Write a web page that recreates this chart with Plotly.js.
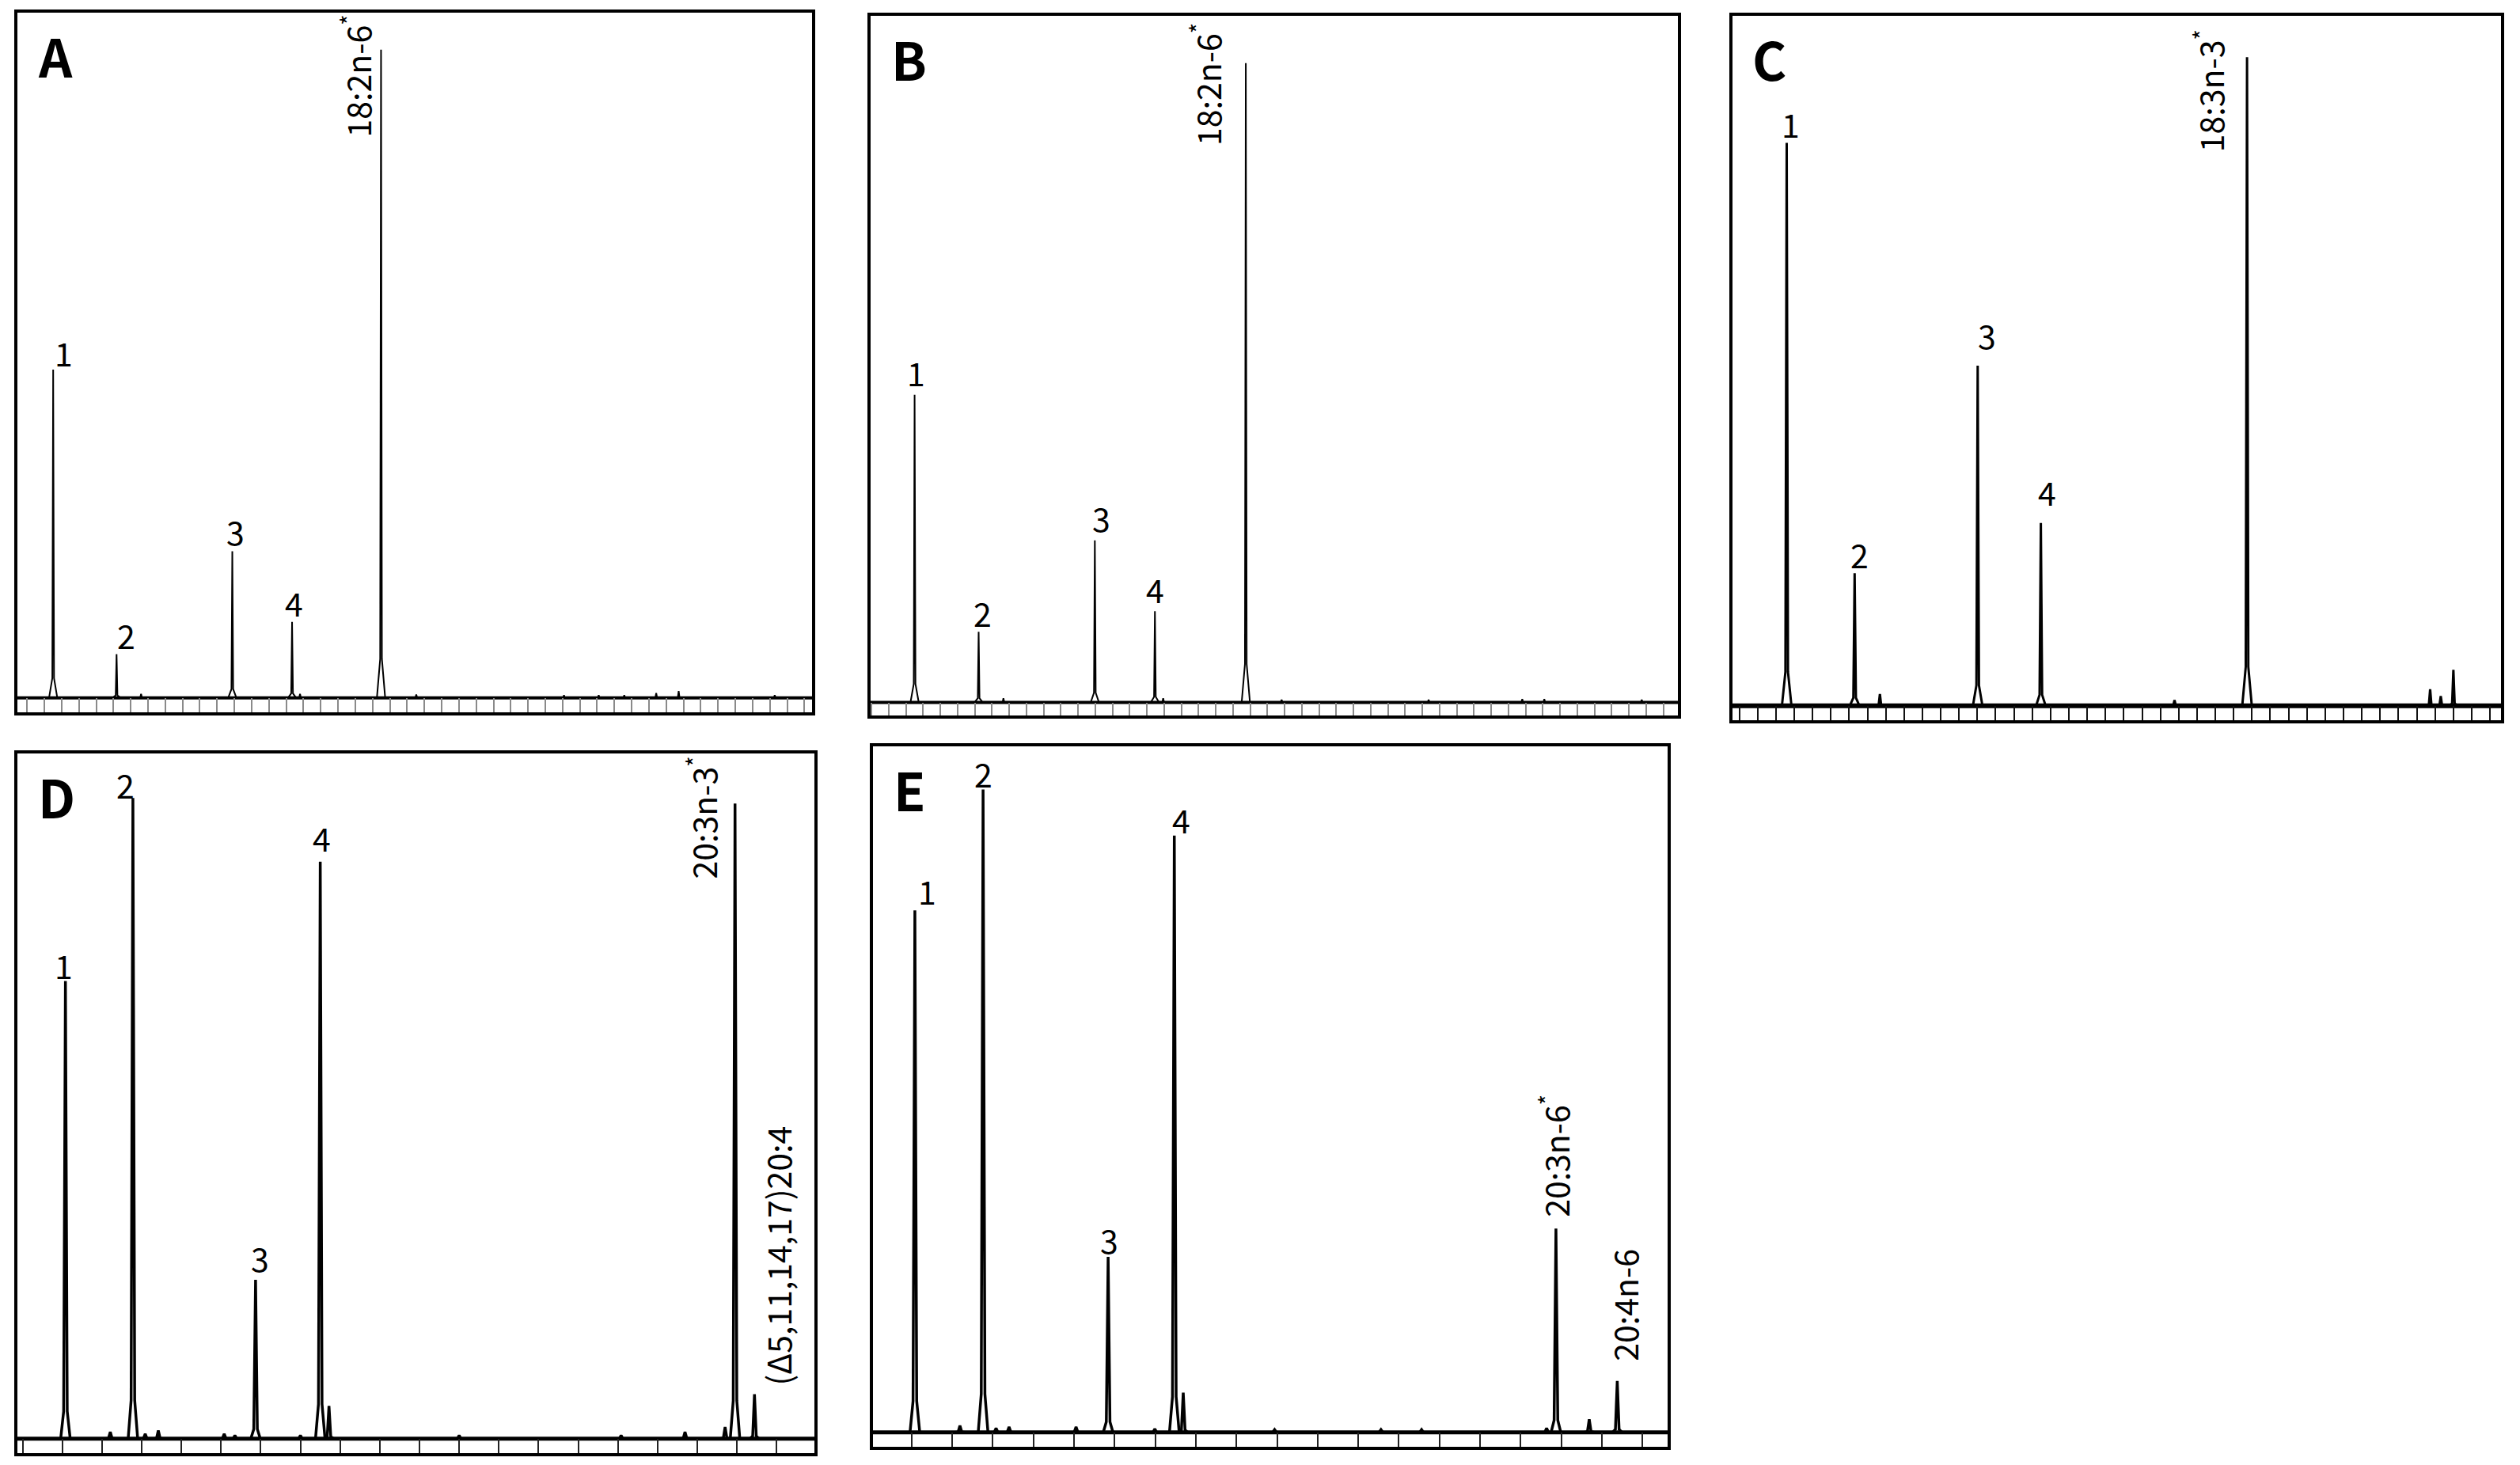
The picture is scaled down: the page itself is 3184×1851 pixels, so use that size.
<!DOCTYPE html>
<html>
<head>
<meta charset="utf-8">
<script src="https://cdn.plot.ly/plotly-3.0.1.min.js"></script>
<style>
    html, body { margin: 0; padding: 0; background: #fff; }
    #chart { width: 3184px; height: 1851px; }
</style>
</head>
<body>
<div id="chart"></div>
<script>
'use strict';

// peak retention (in chart-strip tick units) and peak height (% of full scale)

// panel A
const rtA = [1.51, 5.18, 6.6, 11.88, 15.34, 15.8, 20.49, 22.53, 31.08, 33.09, 34.57, 36.42, 37.72, 43.28];
const hA = [47.9, 6.4, 0.6, 21.4, 11.1, 0.6, 94.6, 0.5, 0.4, 0.4, 0.4, 0.7, 1.0, 0.4];
const labA = ['1', '2', '3', '4', '18:2n-6<sup>*</sup>'];
const labAx = [2.13, 5.74, 12.04, 15.43, 19.04];
const labAy = [50.5, 9.2, 24.4, 14.0, 90.8];

// panel B
const rtB = [2.5, 6.22, 7.66, 12.97, 16.46, 16.94, 21.74, 23.82, 32.36, 37.8, 39.08, 44.74];
const hB = [44.8, 10.3, 0.6, 23.6, 13.3, 0.6, 93.1, 0.4, 0.4, 0.5, 0.5, 0.4];
const labB = ['1', '2', '3', '4', '18:2n-6<sup>*</sup>'];
const labBx = [2.6, 6.44, 13.35, 16.46, 19.4];
const labBy = [48.1, 13.1, 26.9, 16.5, 90.0];

// panel C
const rtC = [2.59, 6.3, 7.68, 13.02, 16.47, 23.77, 27.73, 37.73, 38.31, 39.0];
const hC = [81.6, 19.2, 1.7, 49.3, 26.5, 0.8, 94.0, 2.4, 1.4, 5.2];
const labC = ['1', '2', '3', '4', '18:3n-3<sup>*</sup>'];
const labCx = [2.79, 6.55, 13.51, 16.81, 25.66];
const labCy = [84.4, 22.0, 53.8, 31.0, 89.1];

// panel D
const rtD = [1.08, 2.21, 2.78, 3.09, 3.42, 5.08, 5.35, 5.87, 7.0, 7.5, 7.72, 11.0, 15.08, 16.69, 17.7, 17.95, 18.44];
const hD = [66.8, 1.0, 93.5, 0.7, 1.2, 0.7, 0.5, 23.2, 0.5, 84.2, 4.8, 0.5, 0.5, 1.0, 1.7, 92.7, 6.5];
const labD = ['1', '2', '3', '4', '20:3n-3<sup>*</sup>', '(Δ5,11,14,17)20:4'];
const labDx = [1.04, 2.59, 5.98, 7.53, 17.12, 19.01];
const labDy = [69.2, 95.5, 26.4, 87.8, 90.6, 26.7];

// panel E
const rtE = [1.08, 2.19, 2.76, 3.08, 3.4, 5.05, 5.84, 6.99, 7.47, 7.69, 9.94, 12.56, 13.56, 16.64, 16.87, 17.69, 18.38];
const hE = [76.1, 1.0, 93.7, 0.6, 0.8, 0.8, 25.6, 0.5, 87.0, 5.8, 0.4, 0.4, 0.4, 0.6, 29.7, 1.9, 7.5];
const labE = ['1', '2', '3', '4', '20:3n-6<sup>*</sup>', '20:4n-6'];
const labEx = [1.39, 2.77, 5.87, 7.64, 16.84, 18.53];
const labEy = [79.0, 96.1, 28.1, 89.4, 40.3, 18.6];

const W = 3184, H = 1851;
const FONT = 'Noto Sans CJK SC, Noto Sans, sans-serif';

// box = [left, top, right, bottom] of the plot area in pixels
const panels = [
    { letter: 'A', rt: rtA, h: hA, lab: labA, lx: labAx, ly: labAy,
      box: [22, 16, 1026, 900], range: [-0.56, 45.44], ymin: -2.1,
      wBase: 0.24, wTop: 0.05, lw: 2, blw: 4, tickColor: '#8a8a8a' },
    { letter: 'B', rt: rtB, h: hB, lab: labB, lx: labBx, ly: labBy,
      box: [1100, 20, 2120, 904], range: [-0.056, 46.84], ymin: -1.9,
      wBase: 0.24, wTop: 0.05, lw: 2, blw: 4, tickColor: '#8a8a8a' },
    { letter: 'C', rt: rtC, h: hC, lab: labC, lx: labCx, ly: labCy,
      box: [2189, 20, 3160, 910], range: [-0.37, 41.6], ymin: -2.1,
      wBase: 0.26, wTop: 0.07, lw: 3, blw: 6, tickColor: '#111' },
    { letter: 'D', rt: rtD, h: hD, lab: labD, lx: labDx, ly: labDy,
      box: [22, 952, 1029, 1836], range: [-0.13, 19.95], ymin: -2.1,
      wBase: 0.12, wTop: 0.045, lw: 3.5, blw: 5, tickColor: '#222' },
    { letter: 'E', rt: rtE, h: hE, lab: labE, lx: labEx, ly: labEy,
      box: [1103, 943, 2107, 1828], range: [0.048, 19.62], ymin: -2.1,
      wBase: 0.12, wTop: 0.045, lw: 3.5, blw: 5, tickColor: '#222' },
];

const data = [];
const layout = {
    width: W,
    height: H,
    margin: { l: 0, r: 0, t: 0, b: 0 },
    paper_bgcolor: '#fff',
    plot_bgcolor: '#fff',
    showlegend: false,
    annotations: [],
};

panels.forEach((p, i) => {
    const n = i === 0 ? '' : String(i + 1);
    const xa = 'x' + n, ya = 'y' + n;
    const [l, t, r, b] = p.box;
    const stripPx = Math.round(((b - t) * -p.ymin) / (100 - p.ymin));

    // flat baseline
    data.push({
        x: p.range, y: [0, 0], xaxis: xa, yaxis: ya,
        type: 'scatter', mode: 'lines', hoverinfo: 'skip',
        line: { color: '#000', width: p.blw },
    });

    // peaks: narrow spikes flaring out at the base
    const px = [], py = [];
    p.rt.forEach((rt, k) => {
        const flare = p.h[k] * 0.06;
        px.push(rt - p.wBase, rt - p.wTop, rt, rt + p.wTop, rt + p.wBase, null);
        py.push(0, flare, p.h[k], flare, 0, null);
    });
    data.push({
        x: px, y: py, xaxis: xa, yaxis: ya,
        type: 'scatter', mode: 'lines', hoverinfo: 'skip',
        line: { color: '#000', width: p.lw },
    });

    layout['xaxis' + n] = {
        domain: [l / W, r / W], anchor: ya, range: p.range,
        showticklabels: false, showgrid: false, zeroline: false,
        tickmode: 'linear', tick0: 0, dtick: 1,
        ticks: 'inside', ticklen: stripPx, tickwidth: 2, tickcolor: p.tickColor,
        showline: true, linewidth: 4, linecolor: '#000', mirror: true,
    };
    layout['yaxis' + n] = {
        domain: [1 - b / H, 1 - t / H], anchor: xa, range: [p.ymin, 100],
        showticklabels: false, showgrid: false, zeroline: false, ticks: '',
        showline: true, linewidth: 4, linecolor: '#000', mirror: true,
    };

    // panel letter
    layout.annotations.push({
        text: p.letter, xref: xa + ' domain', yref: ya + ' domain',
        x: 0.024, y: 0.94, xanchor: 'left', yanchor: 'middle', showarrow: false,
        font: { family: FONT, size: 66, color: '#000', weight: 700 },
    });

    // peak labels
    p.lab.forEach((txt, k) => {
        layout.annotations.push({
            text: txt, xref: xa, yref: ya, x: p.lx[k], y: p.ly[k],
            xanchor: 'center', yanchor: 'middle', showarrow: false,
            textangle: txt.length > 2 ? -90 : 0,
            font: { family: FONT, size: 41, color: '#000' },
        });
    });
});

Plotly.newPlot('chart', data, layout, { staticPlot: true });
</script>
</body>
</html>
